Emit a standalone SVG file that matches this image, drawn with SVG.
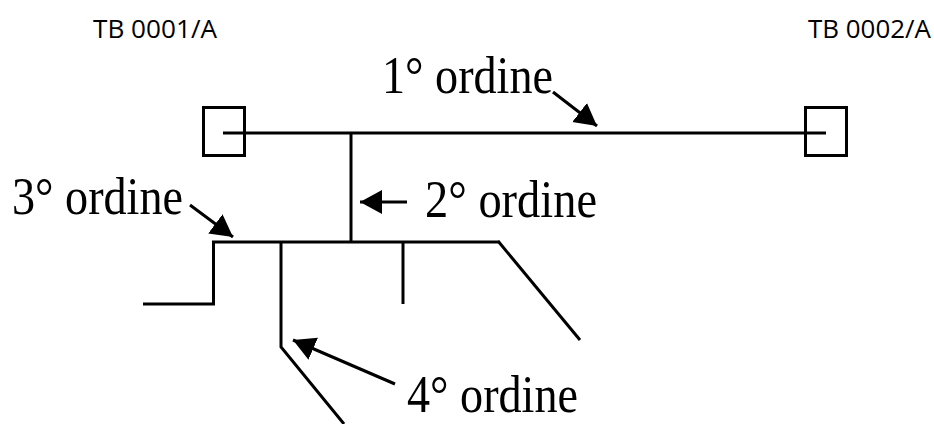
<svg xmlns="http://www.w3.org/2000/svg" width="934" height="424" viewBox="0 0 934 424">
<style>
.ln{stroke:#000;stroke-width:3;fill:none;stroke-linecap:butt}
.ar{stroke:#000;stroke-width:3;fill:none;marker-end:url(#ah)}
.lbl{font-family:"Liberation Serif","Times New Roman",serif;font-size:52px;fill:#000}
.tb{font-family:"Open Sans","Liberation Sans",sans-serif;font-size:26px;fill:#000}
</style>
<defs>
<marker id="ah" markerUnits="userSpaceOnUse" markerWidth="26" markerHeight="26" refX="22" refY="12" orient="auto">
<path d="M0,0 L22,12 L0,24 Z" fill="#000"/>
</marker>
</defs>
<rect width="934" height="424" fill="#fff"/>
<g id="tb1"><rect class="ln" x="203.5" y="107.5" width="41" height="48"/><text class="tb" x="93" y="38" textLength="124" lengthAdjust="spacingAndGlyphs">TB 0001/A</text></g>
<g id="tb2"><rect class="ln" x="805.5" y="107.5" width="41" height="48"/><text class="tb" x="808" y="38" textLength="123" lengthAdjust="spacingAndGlyphs">TB 0002/A</text></g>
<g id="connectors">
<line class="ln" x1="223" y1="133" x2="826" y2="133"/>
<line class="ln" x1="351" y1="133" x2="351" y2="242"/>
<line class="ln" x1="212" y1="242" x2="499" y2="242"/>
<polyline class="ln" points="213.5,242 213.5,304 143,304"/>
<polyline class="ln" points="281,242 281,347 344,424"/>
<line class="ln" x1="403" y1="242" x2="403" y2="304"/>
<line class="ln" x1="498" y1="241" x2="580" y2="340"/>
<line class="ar" x1="553" y1="92" x2="597" y2="126"/>
<line class="ar" x1="190" y1="205" x2="233" y2="237"/>
<line class="ar" x1="395" y1="384" x2="293" y2="340"/>
<line class="ar" x1="407" y1="202" x2="360" y2="202"/>
</g>
<g id="labels">
<text class="lbl" x="382" y="93" textLength="171" lengthAdjust="spacingAndGlyphs">1° ordine</text>
<text class="lbl" x="425" y="217" textLength="172" lengthAdjust="spacingAndGlyphs">2° ordine</text>
<text class="lbl" x="12" y="214" textLength="171" lengthAdjust="spacingAndGlyphs">3° ordine</text>
<text class="lbl" x="407" y="412" textLength="171" lengthAdjust="spacingAndGlyphs">4° ordine</text>
</g>
</svg>
